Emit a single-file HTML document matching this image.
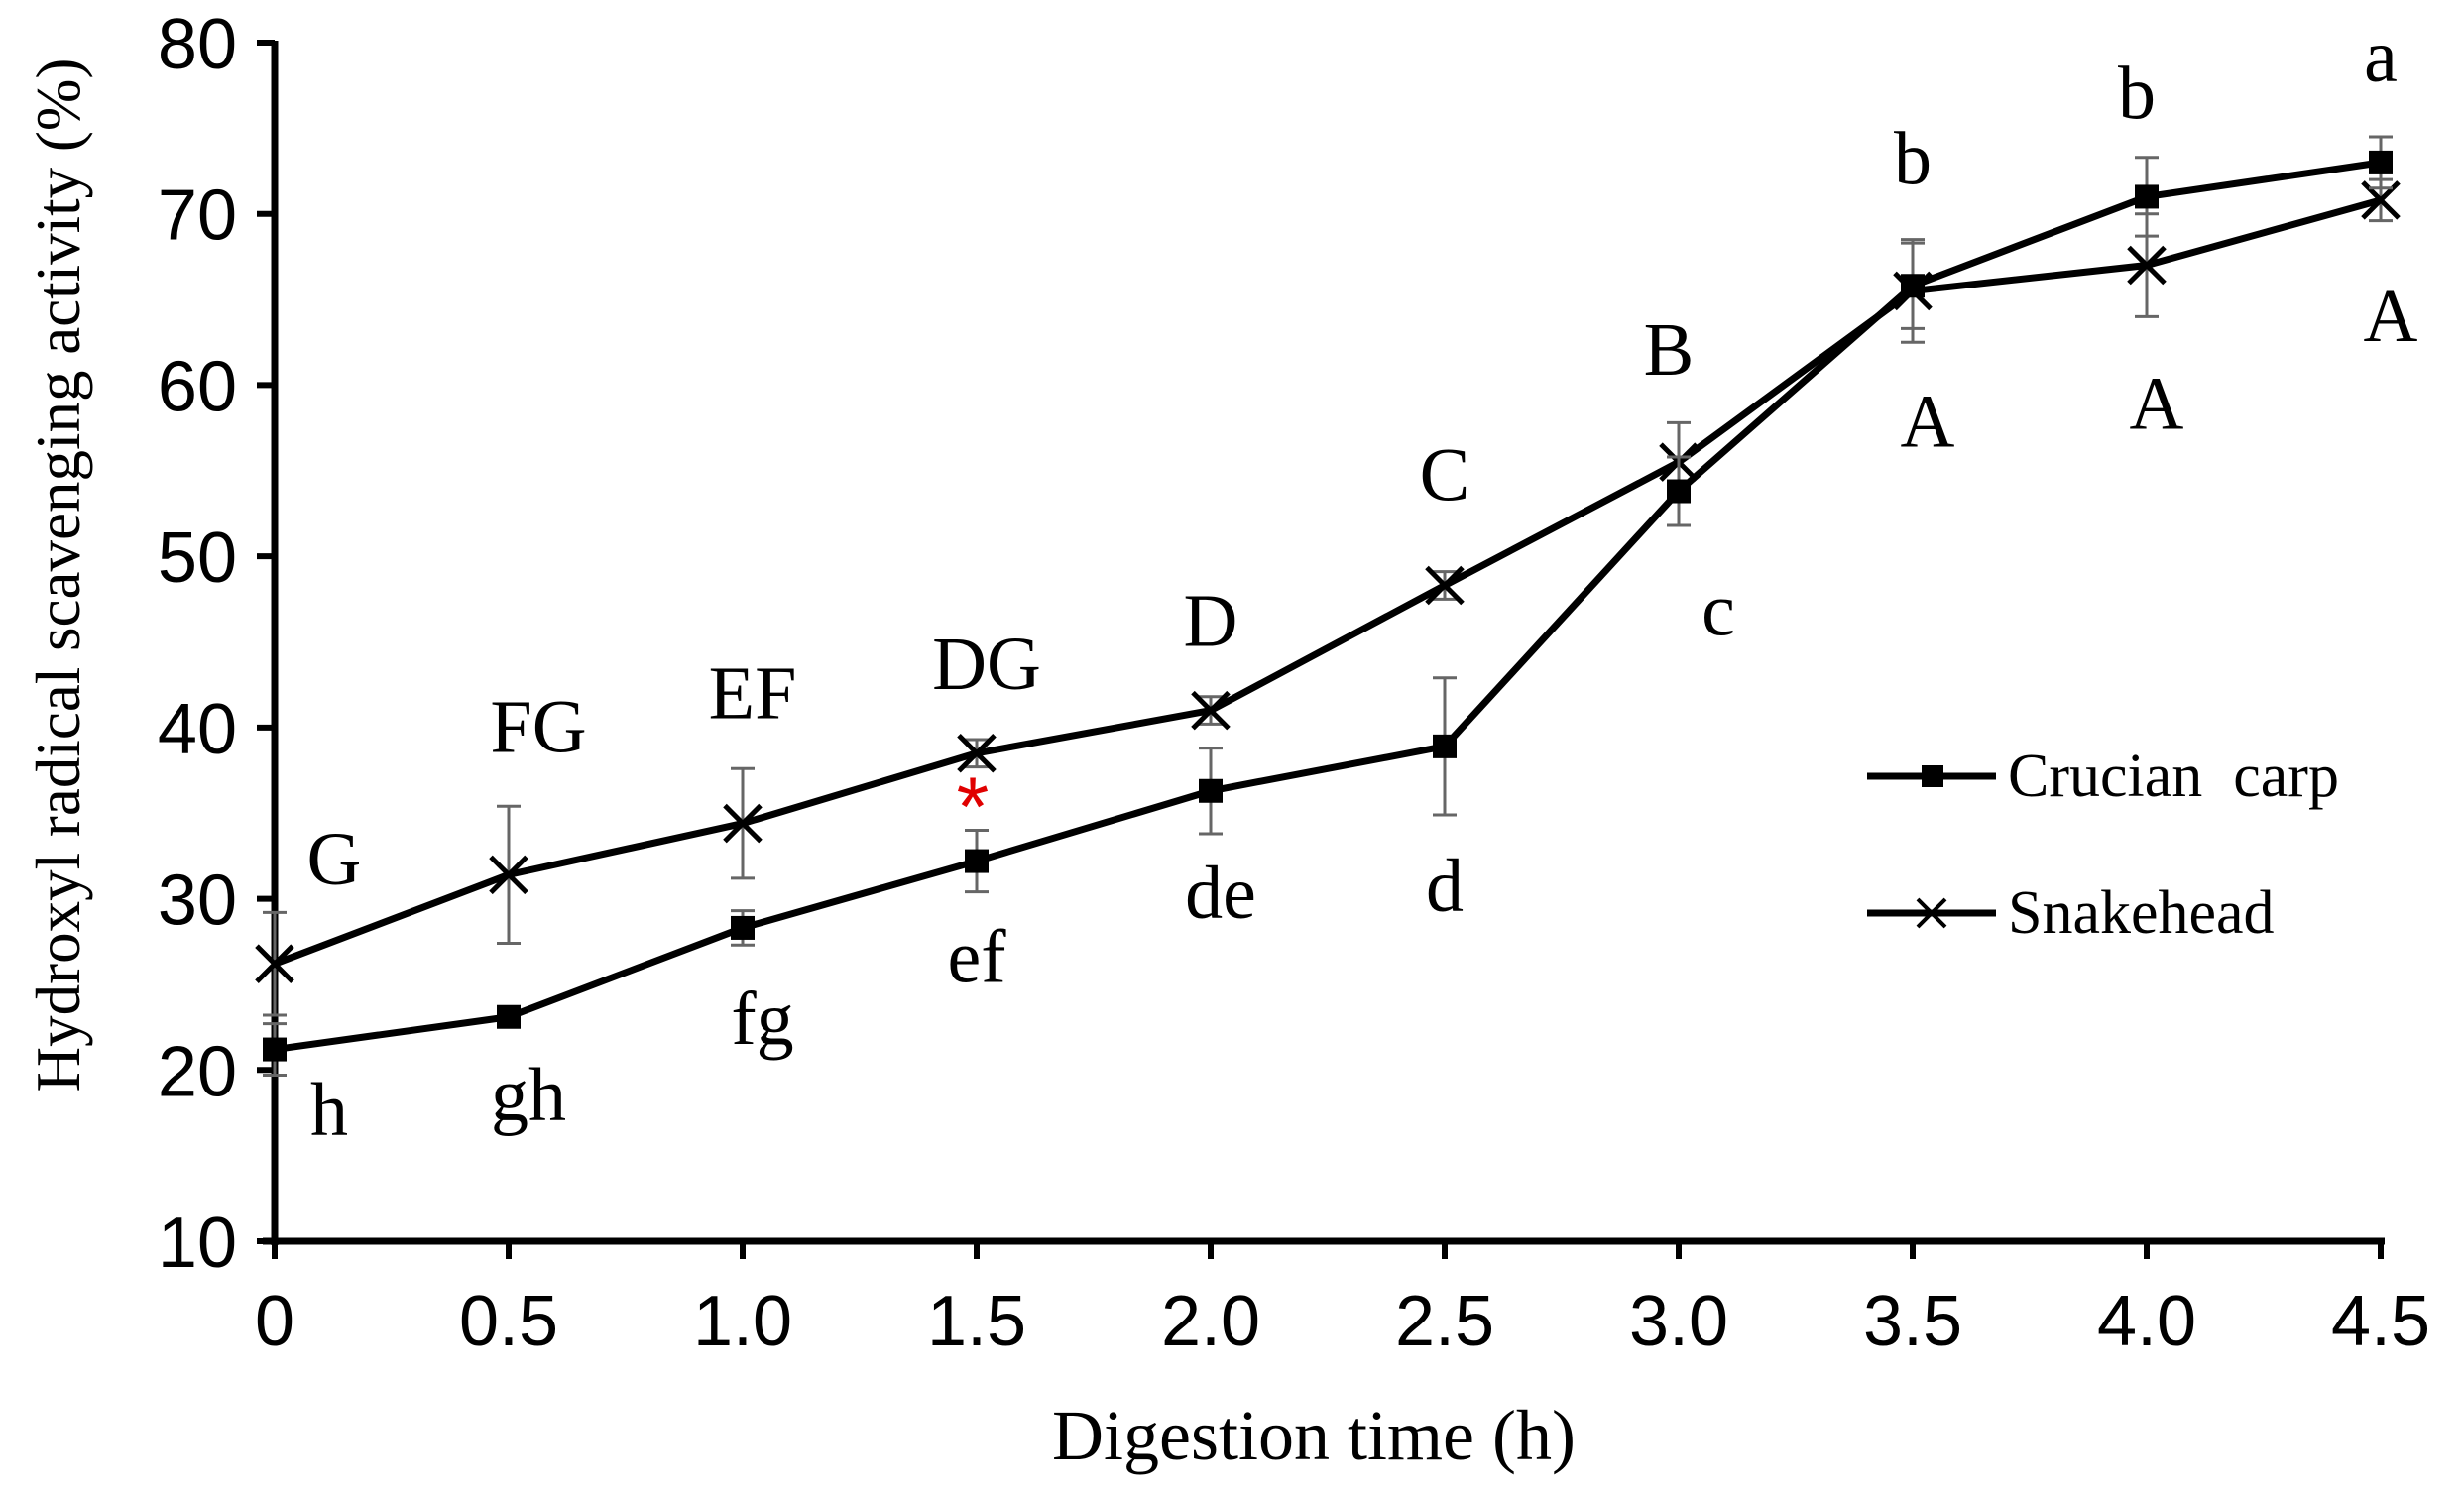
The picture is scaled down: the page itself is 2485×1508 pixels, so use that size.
<!DOCTYPE html>
<html><head><meta charset="utf-8"><style>
html,body{margin:0;padding:0;background:#fff;}
svg{display:block;}
text{font-family:"Liberation Serif",serif;fill:#000;}
.tick{font-family:"Liberation Sans",sans-serif;font-size:72px;}
</style></head><body>
<svg id="chart" width="2485" height="1508" viewBox="0 0 2485 1508" xmlns="http://www.w3.org/2000/svg">
<g id="axes"></g>
<g id="series"></g>
<g id="labels"></g>
<text transform="translate(80,580) rotate(-90)" text-anchor="middle" font-size="63">Hydroxyl radical scavenging activity (%)</text>
<text x="1325" y="1472" text-anchor="middle" font-size="72">Digestion time (h)</text>
<g>
<line x1="1883" y1="783" x2="2013" y2="783" stroke="#000" stroke-width="7"/>
<rect x="1938" y="772" width="22" height="22" fill="#000"/>
<text x="2025" y="803" font-size="62" xml:space="preserve">Crucian  carp</text>
<line x1="1883" y1="921" x2="2013" y2="921" stroke="#000" stroke-width="7"/>
<path d="M1934 907 L1962 935 M1962 907 L1934 935" stroke="#000" stroke-width="4"/>
<text x="2025" y="941" font-size="62">Snakehead</text>
</g>
</svg>
<script>
const xValues=[0,0.5,1.0,1.5,2.0,2.5,3.0,3.5,4.0,4.5];
const xTickLabels=["0","0.5","1.0","1.5","2.0","2.5","3.0","3.5","4.0","4.5"];
const yTicks=[10,20,30,40,50,60,70,80];
const crucian=[21.2,23.1,28.3,32.2,36.3,38.9,53.8,65.8,71.0,73.0];
const crucianErr=[1.5,0.5,1.0,1.8,2.5,4.0,2.0,2.5,2.3,1.5];
const snakehead=[26.2,31.4,34.4,38.5,41.0,48.3,55.5,65.5,67.0,70.8];
const snakeheadErr=[3.0,4.0,3.2,0.8,0.8,0.8,2.3,3.0,3.0,1.2];
const upperLetters=["G","FG","EF","DG","D","C","B","A","A","A"];
const lowerLetters=["h","gh","fg","ef","de","d","c","b","b","a"];

const NS="http://www.w3.org/2000/svg";
function X(v){return 277+(v-0)/4.5*(2401-277);}
function Y(v){return 1252-(v-10)/70*(1252-43);}
function mk(tag,attrs,parent,txt){const e=document.createElementNS(NS,tag);for(const k in attrs)e.setAttribute(k,attrs[k]);if(txt!==undefined)e.textContent=txt;parent.appendChild(e);return e;}
const axes=document.getElementById('axes'),series=document.getElementById('series'),labels=document.getElementById('labels');
let e;
e=mk('line',{x1:X(0),y1:Y(80)-2,x2:X(0),y2:Y(10)+4,stroke:'#000','stroke-width':7},axes);


e=mk('line',{x1:X(0)-12,y1:Y(10),x2:X(4.5)+4,y2:Y(10),stroke:'#000','stroke-width':7},axes);


yTicks.forEach(t=>{
 e=mk('line',{x1:X(0)-18,y1:Y(t),x2:X(0),y2:Y(t),stroke:'#000','stroke-width':6},axes);
 
 
 e=mk('text',{x:X(0)-38,y:Y(t)+26,'text-anchor':'end',class:'tick'},axes,String(t));
 
 
});
xValues.forEach((v,i)=>{
 e=mk('line',{x1:X(v),y1:Y(10),x2:X(v),y2:Y(10)+18,stroke:'#000','stroke-width':6},axes);
 
 
 e=mk('text',{x:X(v),y:1357,'text-anchor':'middle',class:'tick'},axes,xTickLabels[i]);
 
 
});
function drawSeries(vals,errs,name,marker){
 vals.forEach((v,i)=>{
  const x=X(xValues[i]);
  e=mk('path',{d:`M${x} ${Y(v-errs[i])} L${x} ${Y(v+errs[i])} M${x-12} ${Y(v-errs[i])} L${x+12} ${Y(v-errs[i])} M${x-12} ${Y(v+errs[i])} L${x+12} ${Y(v+errs[i])}`,stroke:'#666','stroke-width':3,fill:'none'},series);
  
  
 });
 e=mk('polyline',{points:vals.map((v,i)=>X(xValues[i])+','+Y(v)).join(' '),fill:'none',stroke:'#000','stroke-width':7,'stroke-linejoin':'round'},series);
 
 
 vals.forEach((v,i)=>{
  const x=X(xValues[i]),y=Y(v);
  if(marker==='square'){e=mk('rect',{x:x-12,y:y-12,width:24,height:24,fill:'#000'},series);}
  else{e=mk('path',{d:`M${x-18} ${y-18} L${x+18} ${y+18} M${x+18} ${y-18} L${x-18} ${y+18}`,stroke:'#000','stroke-width':5},series);}
  
  
 });
}
drawSeries(snakehead,snakeheadErr,'snakehead','x');
drawSeries(crucian,crucianErr,'crucian','square');
// letter offsets (layout only)
const upOff=[-80,-124,-106,-65,-65,-86,-88,157,165,142];
const upDx=[60,30,10,10,0,0,-10,15,10,10];
const loOff=[86,104,117,122,128,166,145,-103,-79,-82];
const loDx=[55,20,20,0,10,0,40,0,-10,0];
xValues.forEach((v,i)=>{
 const ys=Y(snakehead[i]);
 e=mk('text',{x:X(v)+upDx[i],y:ys+upOff[i],'text-anchor':'middle','font-size':76},labels,upperLetters[i]);
 
 
 const yc=Y(crucian[i]);
 e=mk('text',{x:X(v)+loDx[i],y:yc+loOff[i],'text-anchor':'middle','font-size':76},labels,lowerLetters[i]);
 
 
});
e=mk('text',{x:X(1.5)-4,y:Y(32.2)-26,'text-anchor':'middle','font-size':84,fill:'#e00000',style:'fill:#e00000;font-family:Liberation Sans,sans-serif'},labels,'*');


</script>
</body></html>
